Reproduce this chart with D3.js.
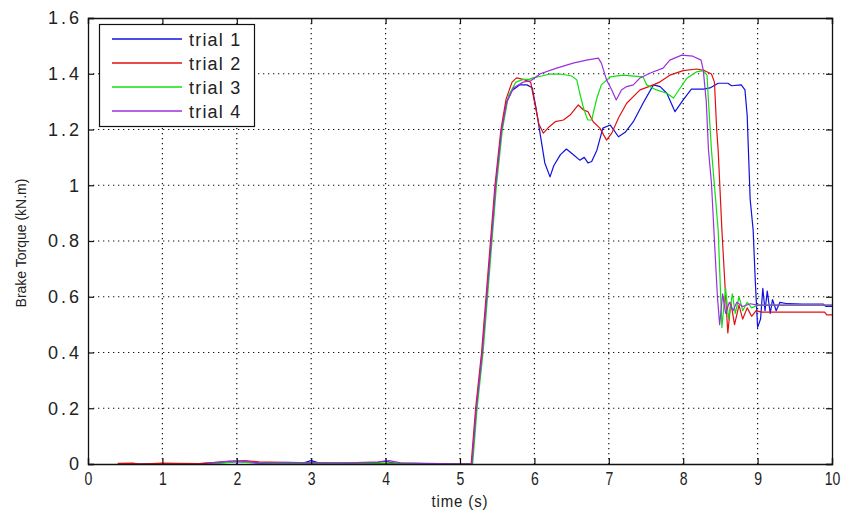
<!DOCTYPE html>
<html>
<head>
<meta charset="utf-8">
<script src="https://cdn.jsdelivr.net/npm/d3@7"></script>
<style>
  html, body { margin: 0; padding: 0; background: #fff; }
  svg text { font-family: "Liberation Sans", Arial, sans-serif; fill: #222; }
</style>
</head>
<body>
<svg id="chart" width="846" height="516"></svg>
<script>
// ---- data ----
const xTicks = [0, 1, 2, 3, 4, 5, 6, 7, 8, 9, 10];
const yTicks = [0, 0.2, 0.4, 0.6, 0.8, 1, 1.2, 1.4, 1.6];
const seriesNames = ["trial 1", "trial 2", "trial 3", "trial 4"];
const seriesColors = ["#1010e0", "#e01010", "#10e010", "#9a30e0"];

const trial1 = [
  [0.4,0],[1.5,0.001],[1.8,0.005],[2.0,0.008],[2.3,0.003],[2.9,0.004],[3.0,0.012],[3.1,0.004],
  [3.5,0.003],[3.9,0.006],[4.0,0.01],[4.1,0.004],[4.2,0],[5.1,0],
  [5.16,0],[5.22,0.2],[5.3,0.4],[5.36,0.6],[5.42,0.8],[5.48,1.0],[5.56,1.2],[5.63,1.3],
  [5.7,1.34],[5.8,1.36],[5.9,1.36],[5.97,1.35],[6.02,1.28],[6.08,1.18],[6.14,1.08],[6.21,1.03],
  [6.26,1.07],[6.35,1.11],[6.43,1.13],[6.5,1.115],[6.61,1.09],[6.67,1.10],[6.72,1.08],[6.77,1.085],
  [6.84,1.126],[6.92,1.205],[7.02,1.216],[7.13,1.174],[7.22,1.19],[7.33,1.228],[7.46,1.294],
  [7.6,1.36],[7.69,1.354],[7.78,1.33],[7.89,1.264],[8.0,1.306],[8.11,1.345],[8.27,1.345],
  [8.36,1.349],[8.47,1.366],[8.6,1.366],[8.65,1.357],[8.78,1.36],[8.83,1.342],[8.86,1.25],
  [8.9,0.95],[8.94,0.84],[8.97,0.65],[9.0,0.49],[9.04,0.52],[9.07,0.63],[9.1,0.55],[9.13,0.62],
  [9.17,0.54],[9.2,0.59],[9.25,0.55],[9.3,0.58],[9.4,0.575],[9.6,0.574],[9.88,0.574],[9.92,0.565],[10,0.565]
];
const trial2 = [
  [0.4,0.002],[0.6,0.003],[0.7,0],[1.0,0.003],[1.2,0.002],[1.5,0.001],[1.8,0.008],[2.1,0.012],
  [2.3,0.008],[2.6,0.006],[2.9,0.004],[3.2,0.003],[3.5,0.001],[4.2,0.002],[5.1,0],
  [5.15,0],[5.21,0.2],[5.29,0.4],[5.35,0.6],[5.41,0.8],[5.47,1.0],[5.55,1.2],[5.62,1.31],
  [5.7,1.37],[5.76,1.385],[5.85,1.38],[5.95,1.37],[6.0,1.3],[6.06,1.22],[6.12,1.187],[6.2,1.21],
  [6.28,1.228],[6.39,1.234],[6.48,1.252],[6.59,1.288],[6.66,1.27],[6.72,1.264],[6.79,1.228],
  [6.88,1.205],[6.97,1.162],[7.04,1.187],[7.13,1.241],[7.24,1.294],[7.42,1.342],[7.6,1.36],
  [7.69,1.371],[7.82,1.395],[8.0,1.411],[8.18,1.417],[8.29,1.411],[8.38,1.399],[8.42,1.37],
  [8.45,1.2],[8.47,1.126],[8.52,0.84],[8.57,0.6],[8.6,0.47],[8.64,0.58],[8.69,0.5],[8.75,0.57],
  [8.8,0.52],[8.86,0.56],[8.92,0.53],[8.98,0.55],[9.05,0.545],[9.5,0.545],[9.9,0.545],[9.93,0.535],[10,0.535]
];
const trial3 = [
  [1.6,0],[1.9,0.006],[2.0,0.012],[2.1,0.006],[2.5,0.002],[3.3,0.002],[3.6,0.004],[4.0,0.003],[5.1,0],
  [5.17,0],[5.23,0.2],[5.31,0.4],[5.37,0.6],[5.43,0.8],[5.49,1.0],[5.57,1.2],[5.65,1.32],
  [5.75,1.37],[5.85,1.38],[5.93,1.38],[5.98,1.385],[6.1,1.392],[6.21,1.399],[6.35,1.399],
  [6.5,1.392],[6.57,1.378],[6.61,1.33],[6.66,1.277],[6.7,1.246],[6.72,1.234],[6.77,1.234],
  [6.79,1.258],[6.84,1.313],[6.9,1.36],[7.02,1.389],[7.19,1.395],[7.46,1.389],[7.51,1.36],
  [7.64,1.342],[7.78,1.33],[7.87,1.313],[7.96,1.349],[8.05,1.384],[8.18,1.407],[8.27,1.411],
  [8.32,1.395],[8.34,1.3],[8.38,1.126],[8.47,0.84],[8.52,0.49],[8.57,0.63],[8.61,0.52],[8.66,0.61],
  [8.7,0.54],[8.75,0.6],[8.8,0.55],[8.86,0.58],[8.92,0.56],[9.0,0.57],[10,0.57]
];
const trial4 = [
  [1.6,0.002],[1.9,0.01],[2.1,0.01],[2.3,0.004],[2.7,0.006],[3.0,0.004],[3.5,0.004],[3.9,0.008],
  [4.05,0.012],[4.2,0.004],[5.1,0],
  [5.16,0],[5.22,0.2],[5.3,0.4],[5.36,0.6],[5.42,0.8],[5.48,1.0],[5.56,1.2],[5.63,1.3],
  [5.72,1.35],[5.85,1.37],[5.95,1.375],[6.08,1.40],[6.3,1.42],[6.52,1.438],[6.7,1.449],
  [6.86,1.456],[6.9,1.438],[6.97,1.378],[7.04,1.342],[7.1,1.306],[7.17,1.342],[7.24,1.354],
  [7.33,1.36],[7.42,1.385],[7.55,1.402],[7.73,1.42],[7.82,1.449],[7.98,1.467],[8.13,1.463],
  [8.24,1.449],[8.27,1.413],[8.31,1.30],[8.34,1.126],[8.38,1.007],[8.42,0.8],[8.46,0.6],
  [8.49,0.5],[8.53,0.61],[8.57,0.54],[8.62,0.58],[8.67,0.55],[8.72,0.58],[8.8,0.565],
  [8.9,0.575],[9.0,0.57],[10,0.57]
];
const allSeries = [trial1, trial2, trial3, trial4];

// ---- layout ----
const svg = d3.select("#chart");
const L = 88, R = 832, T = 18, B = 464;
const x = d3.scaleLinear().domain([0, 10]).range([L, R]);
const y = d3.scaleLinear().domain([0, 1.6]).range([B, T]);

// grid
const grid = svg.append("g");
grid.selectAll(".gx").data(xTicks.slice(1, -1)).enter().append("line")
  .attr("x1", d => x(d)).attr("x2", d => x(d)).attr("y1", T).attr("y2", B)
  .attr("stroke", "#111").attr("stroke-width", 1.2).attr("stroke-dasharray", "1.3,3.7");
grid.selectAll(".gy").data(yTicks.slice(1, -1)).enter().append("line")
  .attr("y1", d => y(d)).attr("y2", d => y(d)).attr("x1", L).attr("x2", R)
  .attr("stroke", "#111").attr("stroke-width", 1.2).attr("stroke-dasharray", "1.3,3.7");

// lines
svg.append("clipPath").attr("id", "clip").append("rect")
  .attr("x", L).attr("y", T).attr("width", R - L).attr("height", B - T);
const line = d3.line().x(d => x(d[0])).y(d => y(d[1]));
svg.append("g").attr("clip-path", "url(#clip)")
  .selectAll("path").data(allSeries).enter().append("path")
  .attr("d", line).attr("fill", "none")
  .style("stroke", (d, i) => seriesColors[i]).attr("stroke-width", 1.2)
  .attr("stroke-linejoin", "round");

// axes (MATLAB style: ticks inward on all sides)
const tickLen = 6;
const axB = svg.append("g").attr("transform", `translate(0,${B})`)
  .call(d3.axisBottom(x).tickValues(xTicks).tickSize(-tickLen).tickPadding(8).tickFormat(d3.format("d")));
const axT = svg.append("g").attr("transform", `translate(0,${T})`)
  .call(d3.axisTop(x).tickValues(xTicks).tickSize(-tickLen).tickFormat(""));
const axL = svg.append("g").attr("transform", `translate(${L},0)`)
  .call(d3.axisLeft(y).tickValues(yTicks).tickSize(-tickLen).tickPadding(6).tickFormat(d3.format("")));
const axR = svg.append("g").attr("transform", `translate(${R},0)`)
  .call(d3.axisRight(y).tickValues(yTicks).tickSize(-tickLen).tickFormat(""));
[axB, axT, axL, axR].forEach(a => {
  a.select(".domain").attr("stroke", "#111").attr("stroke-width", 1.3);
  a.selectAll(".tick line").attr("stroke", "#111").attr("stroke-width", 1.2);
  a.selectAll("text").attr("fill", "#222")
    .attr("font-family", "'Liberation Sans', Arial, sans-serif");
});
axB.selectAll("text").attr("font-size", 18).attr("transform", "scale(0.78,1)");
axL.selectAll("text").attr("font-size", 18).attr("letter-spacing", "3px");

// axis labels
svg.append("text").attr("x", 460).attr("y", 507)
  .attr("text-anchor", "middle").attr("font-size", 17).attr("letter-spacing", "1px")
  .attr("transform", "translate(460,0) scale(0.88,1) translate(-460,0)").text("time (s)");
svg.append("text").attr("transform", `translate(26,${(T + B) / 2 + 2}) rotate(-90)`)
  .attr("text-anchor", "middle").attr("font-size", 14).text("Brake Torque (kN.m)");

// legend
const lg = svg.append("g");
lg.append("rect").attr("x", 99.5).attr("y", 24.5).attr("width", 155).attr("height", 102)
  .attr("fill", "#fff").attr("stroke", "#111").attr("stroke-width", 1.2);
const rowY = [39, 63, 87, 111];
seriesNames.forEach((n, i) => {
  lg.append("path").attr("d", `M112,${rowY[i]}H182`)
    .style("stroke", seriesColors[i]).style("stroke-width", "1.5px").style("fill", "none");
  lg.append("text").attr("x", 189).attr("y", rowY[i] + 6.5).attr("font-size", 18)
    .attr("letter-spacing", "1.2px").text(n);
});
</script>
</body>
</html>
